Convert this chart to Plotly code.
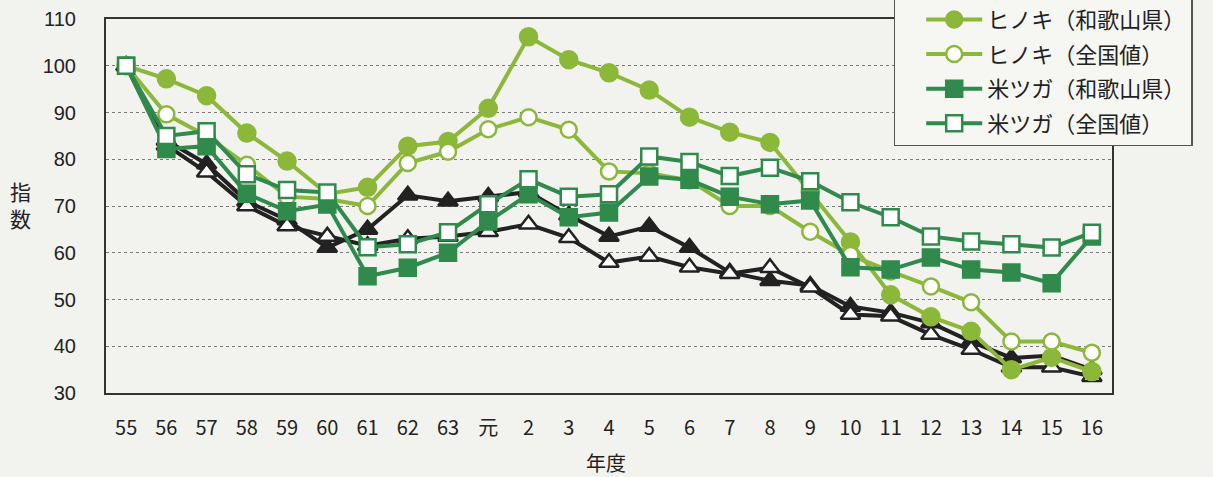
import plotly.graph_objects as go

# 年度 (昭和55年度 = 100)
years = ["55", "56", "57", "58", "59", "60", "61", "62", "63", "元",
         "2", "3", "4", "5", "6", "7", "8", "9", "10", "11", "12", "13", "14", "15", "16"]

sugi_wakayama = [100, 84, 79, 71, 67, 61.1, 65, 72.3, 71, 72, 73, 68, 63.5, 65.6, 61.1,
                 55.8, 54, 53, 48.5, 47.2, 45, 41, 37.5, 38, 35]
sugi_zenkoku = [100, 83, 77.2, 70, 65.7, 63.5, 61.5, 63, 63.5, 64.5, 66.1, 63.2, 57.9, 59.2, 56.9,
                55.5, 56.8, 52.6, 46.8, 46.4, 42.5, 39.3, 35.5, 35.5, 33.5]
hinoki_wakayama = [100, 97.2, 93.6, 85.6, 79.6, 72.6, 74, 82.8, 83.8, 90.9, 106.2, 101.3, 98.5,
                   94.8, 89, 85.8, 83.6, 73, 62.3, 51, 46.3, 43.2, 35, 37.6, 34.6]
hinoki_zenkoku = [100, 89.6, 85, 78.8, 72, 71.5, 70, 79.2, 81.6, 86.4, 89, 86.3, 77.4,
                  77, 75.5, 70, 70, 64.5, 59.5, 56, 52.8, 49.4, 41, 41, 38.6]
tsuga_wakayama = [100, 82.2, 82.8, 72.6, 68.9, 70.3, 55, 56.8, 60, 66.7, 72.5, 67.6, 68.6,
                  76.3, 75.6, 72, 70.4, 71.2, 56.9, 56.4, 59, 56.4, 55.8, 53.5, 63.5]
tsuga_zenkoku = [100, 85, 86, 76.8, 73.4, 72.9, 61.2, 61.8, 64.4, 70.4, 75.7, 72, 72.5,
                 80.6, 79.4, 76.4, 78.2, 75.3, 70.8, 67.6, 63.5, 62.4, 61.8, 61.1, 64.3]

LIGHT = "#8cb83a"
DARK = "#2f8a4c"
BLACK = "#222222"
BG = "#f2f2ef"
FONT_JP = "Noto Sans CJK JP"
FONT_NUM = "Liberation Sans"

series = [
    ("スギ（和歌山県）", sugi_wakayama, BLACK, "triangle-up", BLACK, False, 17),
    ("スギ（全国値）", sugi_zenkoku, BLACK, "triangle-up", "white", False, 17),
    ("ヒノキ（和歌山県）", hinoki_wakayama, LIGHT, "circle", LIGHT, True, 17),
    ("ヒノキ（全国値）", hinoki_zenkoku, LIGHT, "circle", "white", True, 16),
    ("米ツガ（和歌山県）", tsuga_wakayama, DARK, "square", DARK, True, 16),
    ("米ツガ（全国値）", tsuga_zenkoku, DARK, "square", "white", True, 16),
]

fig = go.Figure()
for name, vals, color, symbol, fill, in_legend, size in series:
    fig.add_trace(go.Scatter(
        x=years, y=vals, name=name, mode="lines+markers",
        legendgroup=name, showlegend=in_legend,
        line=dict(color=color, width=4),
        marker=dict(symbol=symbol, size=size, color=fill,
                    line=dict(color=color, width=2.5)),
    ))

fig.update_layout(
    width=1213, height=477,
    margin=dict(l=106, r=101, t=19, b=84, autoexpand=False),
    paper_bgcolor=BG, plot_bgcolor=BG,
    font=dict(family=FONT_NUM, size=20, color="#222222"),
    showlegend=True,
    legend=dict(
        x=0.783, xanchor="left", y=0.66, yanchor="bottom",
        bgcolor="#f6f6f3", bordercolor="#555555", borderwidth=1.5,
        font=dict(family=FONT_JP, size=22, color="#222222"),
        itemwidth=56, indentation=26, tracegroupgap=3, traceorder="grouped",
    ),
    xaxis=dict(
        type="category", range=[-0.5, 24.5],
        showline=True, linecolor="#333333", linewidth=2, mirror=True,
        showgrid=False, ticks="", ticklabelstandoff=16,
        tickfont=dict(family=FONT_JP, size=20),
    ),
    yaxis=dict(
        range=[30, 110], dtick=10, tick0=30,
        showline=True, linecolor="#333333", linewidth=2, mirror=True,
        showgrid=True, gridcolor="#7a7a7a", gridwidth=1.3, griddash="3px,3px",
        zeroline=False, ticks="", ticklabelstandoff=24,
        tickfont=dict(family=FONT_NUM, size=20),
    ),
    annotations=[
        dict(text="指<br>数", xref="paper", yref="paper", x=0, y=0.505,
             xanchor="center", yanchor="middle", xshift=-86, showarrow=False,
             font=dict(family=FONT_JP, size=21), align="center"),
        dict(text="年度", xref="paper", yref="paper", x=0.497, y=0,
             xanchor="center", yanchor="middle", yshift=-69, showarrow=False,
             font=dict(family=FONT_JP, size=20)),
    ],
)

fig.write_html("out.html")
